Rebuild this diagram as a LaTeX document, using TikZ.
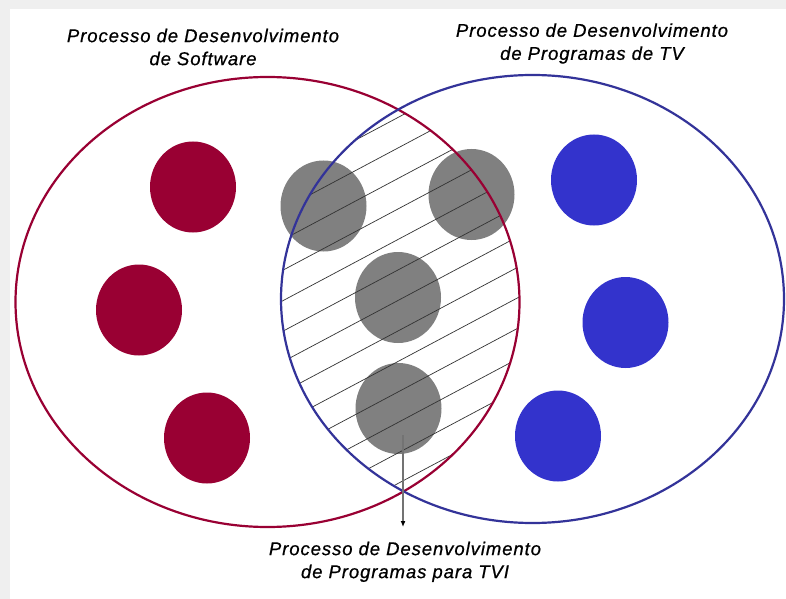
\documentclass[tikz,border=0pt]{standalone}
\usepackage{fontspec}
\setmainfont{Liberation Sans}
\newfontfamily\captionfont[LetterSpace=5,FakeBold=0.7]{Liberation Sans}
\usetikzlibrary{shapes.geometric, arrows.meta}

\definecolor{softred}{HTML}{990033}
\definecolor{softblue}{HTML}{3333CC}
\definecolor{ringblue}{HTML}{333399}
\definecolor{ringred}{HTML}{990033}
\definecolor{dotgray}{HTML}{808080}
\definecolor{framegray}{HTML}{EFEFEF}

\tikzset{
  dot/.style={ellipse, inner sep=0pt, minimum width=86bp, minimum height=91bp},
  reddot/.style={dot, fill=softred},
  bluedot/.style={dot, fill=softblue},
  graydot/.style={dot, fill=dotgray},
  caption/.style={align=center, inner sep=0pt, anchor=north,
    font=\fontsize{18.5bp}{23bp}\selectfont\captionfont\itshape},
  ring/.style={line width=2.2bp},
  hatch/.style={line width=0.7bp, draw=black!80},
  pointer/.style={line width=1.2bp, draw=black!55, -{Latex[length=6bp,width=5bp,black]}}
}

\begin{document}
\begin{tikzpicture}[x=1bp, y=-1bp]
  % page with a light frame along the top and left
  \fill[framegray] (0,0) rectangle (786,599);
  \fill[white] (10,9) rectangle (786,599);
  \useasboundingbox (0,0) rectangle (786,599);

  % coloured elements
  \node[reddot] (r1) at (193,187) {};
  \node[reddot] (r2) at (139,310) {};
  \node[reddot] (r3) at (207,438) {};

  \node[bluedot] (b1) at (594,180) {};
  \node[bluedot] (b2) at (625.5,322.5) {};
  \node[bluedot] (b3) at (558,436) {};

  \node[graydot] (g1) at (323.5,206) {};
  \node[graydot] (g2) at (471.5,194.5) {};
  \node[graydot] (g3) at (398,297.5) {};
  \node[graydot] (g4) at (398.5,408.5) {};

  % hatching of the shared region
  \begin{scope}
    \clip (267.5,302) ellipse [x radius=252, y radius=225];
    \clip (532.5,299) ellipse [x radius=251.5, y radius=224];
    \foreach \k in {-6,...,16}{
      \draw[hatch] (260,{132.7+0.532*166.7+30.5*\k}) -- (540,{132.7-0.532*113.3+30.5*\k});
    }
  \end{scope}

  % the two sets
  \draw[ring, draw=ringred] (267.5,302) ellipse [x radius=252, y radius=225];
  \draw[ring, draw=ringblue] (532.5,299) ellipse [x radius=251.5, y radius=224];

  % captions
  \node[caption] (t1) at (203,28.5) {Processo de Desenvolvimento\\de Software};
  \node[caption] (t2) at (592,23.2) {Processo de Desenvolvimento\\de Programas de TV};
  \node[caption] (t3) at (405,541.5) {Processo de Desenvolvimento\\de Programas para TVI};

  % pointer from the shared region to its caption
  \coordinate (p0) at (403,435);
  \coordinate (p1) at (403,527);
  \draw[pointer] (p0) -- (p1);
\end{tikzpicture}
\end{document}
